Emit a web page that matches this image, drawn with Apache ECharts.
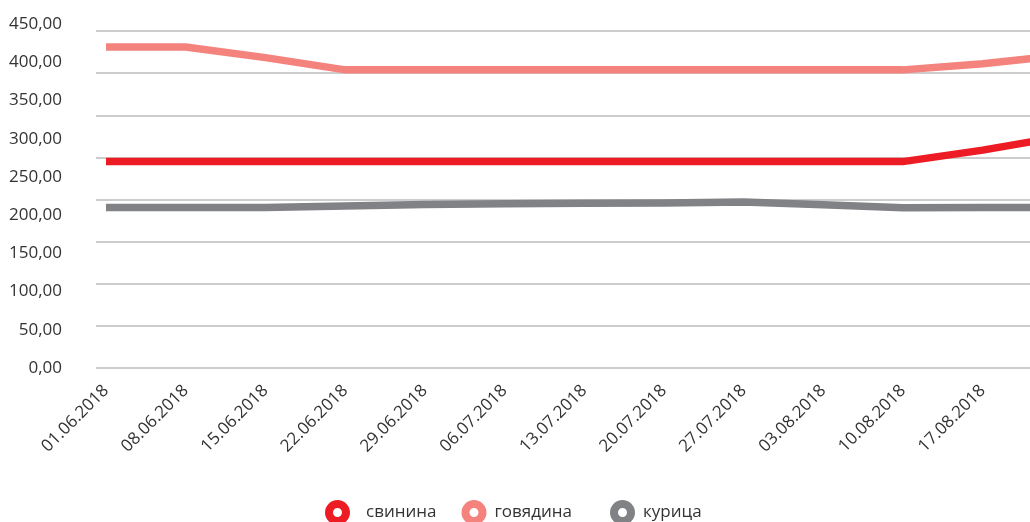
<!DOCTYPE html>
<html>
<head>
<meta charset="utf-8">
<script src="https://cdn.jsdelivr.net/npm/echarts@6/dist/echarts.min.js"></script>
<style>
  html, body { margin: 0; padding: 0; background: #fff; overflow: hidden; }
  /* wider than the window: the last week runs past the right edge like in the original */
  #chart { width: 1070px; height: 522px; }
</style>
</head>
<body>
<div id="chart"></div>
<script>
// weekly dates, the last point is cut off at the right edge of the picture
const categories = [
  '01.06.2018', '08.06.2018', '15.06.2018', '22.06.2018', '29.06.2018', '06.07.2018',
  '13.07.2018', '20.07.2018', '27.07.2018', '03.08.2018', '10.08.2018', '17.08.2018', ''
];
const svinina = [270, 270, 270, 270, 270, 270, 270, 270, 270, 270, 270, 285, 303];
const govyadina = [420, 420, 406, 390, 390, 390, 390, 390, 390, 390, 390, 398, 409];
const kurica = [210, 210, 210, 212, 214, 215, 215.5, 216, 217, 213.5, 209.5, 210, 210];

const yMin = 0;
const yMax = 450;
const yStep = 50;
const gridRows = 8; // the horizontal rules in the original don't follow the labels

const colors = {
  svinina: '#ED1C24',
  govyadina: '#F4837D',
  kurica: '#808285'
};

const font = '"Open Sans", sans-serif';
const chart = echarts.init(document.getElementById('chart'));

const makeLine = (name, data, color) => ({
  name,
  type: 'line',
  xAxisIndex: 1,
  yAxisIndex: 1,
  data,
  showSymbol: false,
  symbol: 'circle',
  color,
  lineStyle: { color, width: 7.5, join: 'miter' }
});

const legendItem = (name, color, padding) => ({
  name,
  itemStyle: { color: '#fff', borderColor: color, borderWidth: 8 },
  textStyle: { padding }
});

// the gaps between legend items are uneven in the original, so two legends
const legendBase = {
  top: 500,
  padding: 0,
  itemWidth: 17,
  itemHeight: 17,
  itemGap: 25,
  icon: 'circle',
  itemStyle: { borderWidth: 8 },
  textStyle: { color: '#333', fontSize: 17, fontFamily: font }
};

chart.setOption({
  animation: false,
  textStyle: { fontFamily: font },
  grid: [
    { left: 96, width: 940, top: 31, height: 337 },
    { left: 106, width: 956.4, top: 24, height: 344 }
  ],
  xAxis: [
    { gridIndex: 0, type: 'value', min: 0, max: 1, show: false },
    {
      gridIndex: 1,
      type: 'category',
      boundaryGap: false,
      data: categories,
      axisLine: { show: false },
      axisTick: { show: false },
      axisLabel: {
        interval: 0,
        rotate: 45,
        margin: 20,
        color: '#333',
        fontSize: 17,
        fontFamily: font
      }
    }
  ],
  yAxis: [
    {
      gridIndex: 0,
      type: 'value',
      min: 0,
      max: gridRows,
      interval: 1,
      axisLine: { show: false },
      axisTick: { show: false },
      axisLabel: { show: false },
      splitLine: { show: true, lineStyle: { color: '#bdbdbd', width: 1.5 } }
    },
    {
      gridIndex: 1,
      type: 'value',
      min: yMin,
      max: yMax,
      interval: yStep,
      axisLine: { show: false },
      axisTick: { show: false },
      splitLine: { show: false },
      axisLabel: {
        margin: 44,
        color: '#333',
        fontSize: 17,
        fontFamily: font,
        formatter: v => v.toFixed(2).replace('.', ',')
      }
    }
  ],
  legend: [
    {
      ...legendBase,
      left: 325,
      data: [
        legendItem('свинина', colors.svinina, [0, 0, 0, 15]),
        legendItem('говядина', colors.govyadina, [0, 0, 0, 7])
      ]
    },
    {
      ...legendBase,
      left: 610,
      data: [legendItem('курица', colors.kurica, [0, 0, 0, 7])]
    }
  ],
  series: [
    makeLine('свинина', svinina, colors.svinina),
    makeLine('говядина', govyadina, colors.govyadina),
    makeLine('курица', kurica, colors.kurica)
  ]
});
</script>
</body>
</html>
